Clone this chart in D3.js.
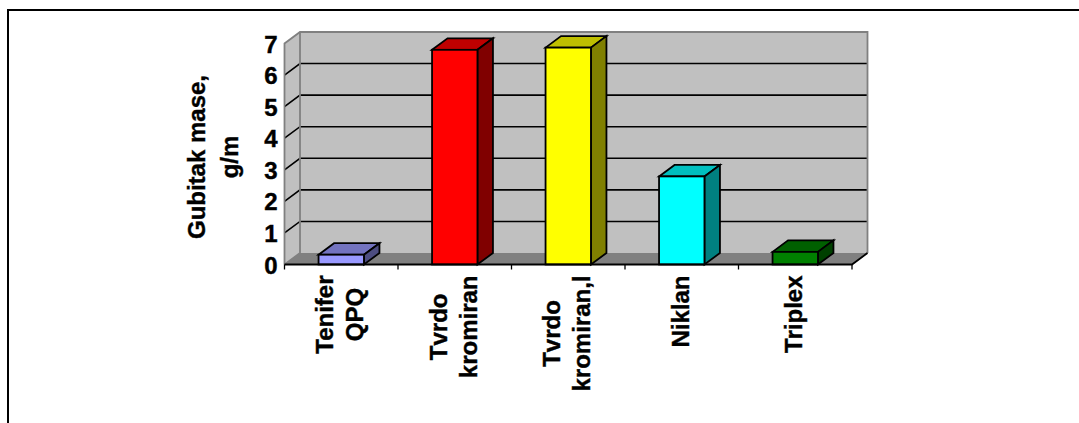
<!DOCTYPE html>
<html>
<head>
<meta charset="utf-8">
<script src="https://cdn.jsdelivr.net/npm/d3@7"></script>
<style>
  html, body { margin: 0; padding: 0; background: #fff; overflow: hidden; }
  text { font-family: "Liberation Sans", Arial, sans-serif; font-weight: bold; font-size: 24px; fill: #000; stroke: #000; stroke-width: 0.4px; }
</style>
</head>
<body>
<div id="chart"></div>
<script>
// values
const categories = ["Tenifer QPQ", "Tvrdo kromiran", "Tvrdo kromiran,l", "Niklan", "Triplex"];
const values = [0.31, 6.8, 6.87, 2.79, 0.4];
const yTicks = [0, 1, 2, 3, 4, 5, 6, 7];
const yTitle = ["Gubitak mase,", "g/m"];
const barColors = ["#9999ff", "#ff0000", "#ffff00", "#00ffff", "#008000"];

const chartW = 1079;
const chartH = 423;

// front plane of the 3d box
const frontL = 284.5, frontR = 852, frontB = 264.5, frontT = 43.5;
// offset of the back wall
const dx = 15.5, dy = -11.5;

const x = d3.scaleBand().domain(categories).range([frontL, frontR]).paddingInner(0.6).paddingOuter(0.3);
const y = d3.scaleLinear().domain([0, 7]).range([frontB, frontT]);

const svg = d3.select("#chart").append("svg").attr("width", chartW).attr("height", chartH);

// outer frame, runs off the picture right and bottom
svg.append("rect")
  .attr("x", 8).attr("y", 10).attr("width", 1200).attr("height", 600)
  .attr("fill", "#fff").attr("stroke", "#000").attr("stroke-width", 2);

const poly = (pts) => pts.map((p) => p.join(",")).join(" ");

// back wall
svg.append("rect")
  .attr("x", frontL + dx).attr("y", frontT + dy)
  .attr("width", frontR - frontL).attr("height", frontB - frontT)
  .attr("fill", "#c0c0c0");

// side wall
svg.append("polygon")
  .attr("points", poly([[frontL, frontT], [frontL + dx, frontT + dy], [frontL + dx, frontB + dy], [frontL, frontB]]))
  .attr("fill", "#c0c0c0");

// floor
svg.append("polygon")
  .attr("points", poly([[frontL, frontB], [frontL + dx, frontB + dy], [frontR + dx, frontB + dy], [frontR, frontB]]))
  .attr("fill", "#808080");

// gridlines
const grid = svg.append("g");
yTicks.filter((d) => d > 0 && d < 7).forEach((d) => {
  grid.append("polyline")
    .attr("points", poly([[frontL, y(d)], [frontL + dx, y(d) + dy], [frontR + dx, y(d) + dy]]))
    .attr("fill", "none").attr("stroke", "#000").attr("stroke-width", 1.6);
});

// gray box outline
svg.append("path")
  .attr("d", `M${frontL},${frontB}V${frontT}L${frontL + dx},${frontT + dy}H${frontR + dx}V${frontB + dy}`)
  .attr("fill", "none").attr("stroke", "#808080").attr("stroke-width", 1.8);
svg.append("path")
  .attr("d", `M${frontL},${frontB}L${frontL + dx},${frontB + dy}V${frontT + dy}`)
  .attr("fill", "none").attr("stroke", "#808080").attr("stroke-width", 1.8);

// bars
const shade = (c, k) => {
  const r = d3.rgb(c);
  return d3.rgb(r.r * k, r.g * k, r.b * k).formatHex();
};
const bars = svg.append("g").selectAll("g")
  .data(categories)
  .enter()
  .append("g")
  .attr("stroke", "#000")
  .attr("stroke-width", 1.8)
  .attr("stroke-linejoin", "miter");

values.forEach((v, i) => {
  const g = d3.select(bars.nodes()[i]);
  const x0 = x(categories[i]);
  const x1 = x0 + x.bandwidth();
  g.append("polygon")
    .attr("points", poly([[x0, y(v)], [x0 + dx, y(v) + dy], [x1 + dx, y(v) + dy], [x1, y(v)]]))
    .attr("fill", shade(barColors[i], 0.75));
  g.append("polygon")
    .attr("points", poly([[x1, y(v)], [x1 + dx, y(v) + dy], [x1 + dx, y(0) + dy], [x1, y(0)]]))
    .attr("fill", shade(barColors[i], 0.5));
  g.append("rect")
    .attr("x", x0).attr("y", y(v))
    .attr("width", x.bandwidth()).attr("height", y(0) - y(v))
    .attr("fill", barColors[i]);
});

// category axis
svg.append("path")
  .attr("d", `M${frontL},${frontB}H${frontR}L${frontR + dx},${frontB + dy}`)
  .attr("fill", "none").attr("stroke", "#000").attr("stroke-width", 1.8);
d3.range(categories.length + 1).forEach((i) => {
  const tx = frontL + i * x.step();
  svg.append("line")
    .attr("x1", tx).attr("x2", tx).attr("y1", frontB).attr("y2", frontB + 5)
    .attr("stroke", "#000").attr("stroke-width", 1.3);
});

// rotated category labels, two lines centred on each other
const labelTop = 275.5;
const lineGap = 30;
categories.forEach((c) => {
  const lines = c.split(" ");
  const cx = x(c) + x.bandwidth() / 2;
  const g = svg.append("g");
  const texts = lines.map((line) =>
    g.append("text").attr("text-anchor", "middle").text(line)
  );
  const longest = d3.max(texts, (t) => t.node().getComputedTextLength());
  texts.forEach((t, i) => {
    const bx = cx - (lines.length - 1) * lineGap / 2 + i * lineGap + 7;
    t.attr("transform", `translate(${bx},${labelTop + longest / 2}) rotate(-90)`);
  });
});

// value axis
const yAxis = svg.append("g")
  .attr("transform", `translate(${frontL},0)`)
  .call(d3.axisLeft(y).tickValues(yTicks).tickFormat(d3.format("d")).tickSize(0).tickPadding(7));
yAxis.select(".domain").remove();
yAxis.selectAll("text")
  .style("font-size", "24px")
  .style("font-family", '"Liberation Sans", Arial, sans-serif')
  .style("font-weight", "bold")
  .attr("dy", "0.36em");

// value axis title
yTitle.forEach((line, i) => {
  svg.append("text")
    .attr("text-anchor", "middle")
    .attr("transform", `translate(${205 + i * 33},157) rotate(-90)`)
    .text(line);
});
</script>
</body>
</html>
